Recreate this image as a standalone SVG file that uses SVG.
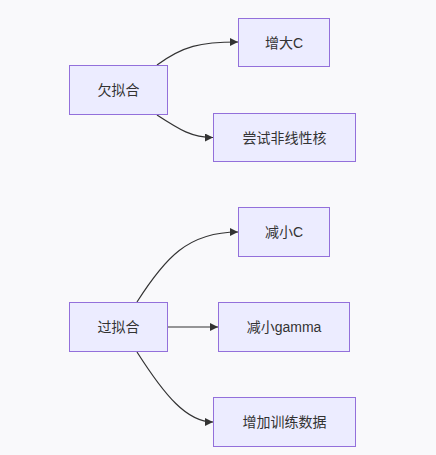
<svg xmlns="http://www.w3.org/2000/svg" width="436" height="455" viewBox="0 0 436 455">
<defs>
<style>
.node rect{fill:#ECECFF;stroke:#9370DB;stroke-width:1px}
.node text{font-family:"Liberation Sans","Noto Sans CJK SC",sans-serif;font-size:14px;fill:#333;text-anchor:middle;dominant-baseline:central}
.edges path{fill:none;stroke:#333;stroke-width:1.2px}
</style>
<marker id="arrow" viewBox="0 0 10 10" refX="10" refY="5" markerWidth="8" markerHeight="8" markerUnits="userSpaceOnUse" orient="auto">
<path d="M0,0 L10,5 L0,10 z" fill="#333"/>
</marker>
</defs>
<rect width="436" height="455" fill="#f9f9fb"/>
<g class="edges">
<path d="M157,65 C183,46 200,42 238,42" marker-end="url(#arrow)"/>
<path d="M157,115 C180,130 192,137.5 213,137.5" marker-end="url(#arrow)"/>
<path d="M137,302 C165,258 188,232 238,232" marker-end="url(#arrow)"/>
<path d="M168,327 L218,327" marker-end="url(#arrow)"/>
<path d="M137,352 C165,396 187,422 213,422" marker-end="url(#arrow)"/>
</g>
<g id="underfit" class="node"><rect x="69.5" y="65.5" width="98" height="49"/><text x="118.5" y="90">欠拟合</text></g>
<g id="incC" class="node"><rect x="238.5" y="18.5" width="91" height="48"/><text x="284" y="42.5">增大C</text></g>
<g id="nonlinear" class="node"><rect x="213.5" y="113.5" width="142" height="48"/><text x="284.5" y="137.5">尝试非线性核</text></g>
<g id="overfit" class="node"><rect x="69.5" y="302.5" width="98" height="49"/><text x="118.5" y="327">过拟合</text></g>
<g id="decC" class="node"><rect x="238.5" y="207.5" width="91" height="49"/><text x="284" y="232">减小C</text></g>
<g id="decGamma" class="node"><rect x="218.5" y="302.5" width="131" height="49"/><text x="284" y="327">减小gamma</text></g>
<g id="moreData" class="node"><rect x="213.5" y="397.5" width="142" height="49"/><text x="284.5" y="422">增加训练数据</text></g>
</svg>
